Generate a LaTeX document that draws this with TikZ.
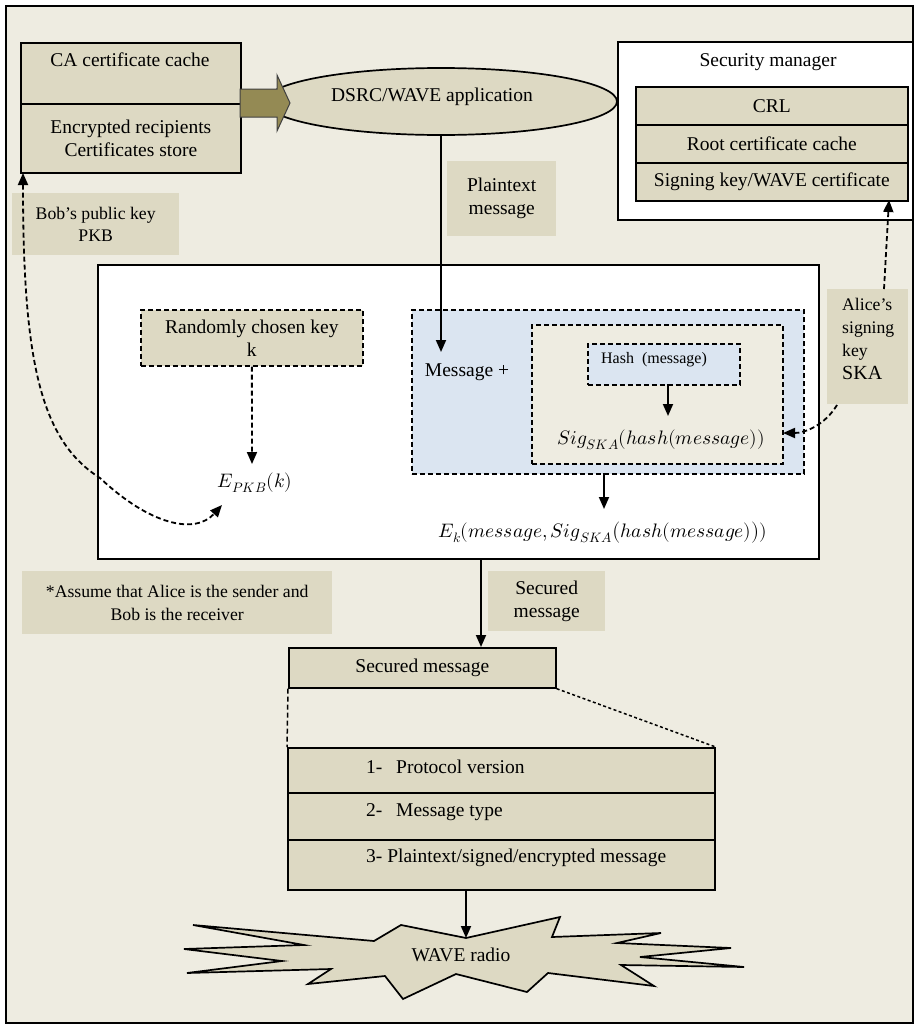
\documentclass[tikz,border=0pt]{standalone}
\usepackage{fontspec}
\usepackage{unicode-math}
\setmainfont{Liberation Serif}
\setmathfont{Latin Modern Math}
\usetikzlibrary{arrows.meta,shapes.geometric,calc}
\definecolor{bgc}{HTML}{EEECE1}
\definecolor{tanc}{HTML}{DDD9C3}
\definecolor{olivec}{HTML}{948A54}
\definecolor{bluec}{HTML}{DBE5F1}
\begin{document}
\begin{tikzpicture}[x=1pt,y=-1pt,
 tx/.style={font=\fontsize{19.5}{23}\selectfont, inner sep=0pt, align=center},
 sm/.style={font=\fontsize{17.7}{22.5}\selectfont, inner sep=0pt, align=center},
 cell/.style={draw, line width=1.7pt, fill=tanc, inner sep=0pt, anchor=north west},
 dbox/.style={draw, line width=1.7pt, dash pattern=on 5pt off 3pt, inner sep=0pt, anchor=north west},
 lab/.style={fill=tanc, inner sep=0pt, anchor=north west},
 arr/.style={line width=1.8pt, -{Triangle[length=12pt,width=10pt]}},
 darr/.style={line width=1.8pt, dash pattern=on 5pt off 3pt, -{Triangle[length=12pt,width=10pt]}},
 dline/.style={line width=1.5pt, dash pattern=on 5pt off 3pt},
]
\useasboundingbox (0,0) rectangle (916,1028);
\node[draw, line width=2pt, fill=bgc, anchor=north west, minimum width=907pt, minimum height=1017pt, inner sep=0pt] (frame) at (5,5) {};

% CA certificate box
\node[cell, minimum width=220pt, minimum height=61pt] (ca1) at (20,42) {};
\node[tx] (ca1t) at (130,60) {CA certificate cache};
\node[cell, tx, minimum width=220pt, minimum height=69pt] (ca2) at (20,103) {Encrypted recipients\\Certificates store};

% application ellipse
\node[draw, ellipse, line width=1.7pt, fill=tanc, minimum width=352pt, minimum height=67pt, inner sep=0pt] (app) at (441,101.5) {};
\node[tx] (appt) at (432,97) {DSRC/WAVE application};

% big arrow
\draw[line width=1pt, draw=black!75, fill=olivec] (240,89) -- (277,89) -- (277,75) -- (290,103) -- (277,131) -- (277,117) -- (240,117) -- cycle;

% security manager
\node[draw, line width=1.7pt, fill=white, anchor=north west, minimum width=295pt, minimum height=178pt, inner sep=0pt] (secm) at (617,41) {};
\node[tx] (secmt) at (768,62) {Security manager};
\node[cell, tx, minimum width=272pt, minimum height=38pt] (crl) at (635,86) {CRL};
\node[cell, tx, minimum width=272pt, minimum height=38pt] (root) at (635,124) {Root certificate cache};
\node[cell, tx, minimum width=272pt, minimum height=38pt] (sign) at (635,162) {Signing key/WAVE certificate};

% labels
\node[lab, tx, minimum width=109pt, minimum height=75pt] (plab) at (447,161) {Plaintext\\message};
\node[lab, sm, minimum width=167pt, minimum height=62pt] (blab) at (12,193) {Bob’s public key\\PKB};

% main white box
\node[draw, line width=2pt, fill=white, anchor=north west, minimum width=721pt, minimum height=294pt, inner sep=0pt] (main) at (97,264) {};

\node[dbox, tx, fill=tanc, minimum width=222pt, minimum height=56pt] (rk) at (140,309) {Randomly chosen key\\k};
\node[tx] (epkb) at (255,483) {$E_{PKB}(k)$};

\node[dbox, fill=bluec, minimum width=392pt, minimum height=164pt] (blue) at (411,309) {};
\node[tx] (msgp) at (467,372) {Message +};
\node[dbox, fill=bgc, minimum width=251pt, minimum height=139pt] (inner) at (531,324) {};
\node[dbox, fill=bluec, minimum width=152pt, minimum height=41pt] (hash) at (587,343) {};
\node[font=\fontsize{16}{19}\selectfont, inner sep=0pt] (hasht) at (654,360) {Hash\ \ (message)};
\node[tx] (sig) at (661,440) {$Sig_{SKA}(hash(message))$};
\node[tx] (ek) at (603,533) {$E_k(message,Sig_{SKA}\bigl(hash(message)\bigr))$};

% Alice label
\node[lab, minimum width=81pt, minimum height=115pt] (alice) at (827,289) {};
\node[font=\fontsize{17.7}{23}\selectfont, inner sep=0pt, align=left, anchor=north west] (alicet) at (842,298) {Alice’s\\signing\\key\\{\fontsize{20}{23}\selectfont SKA}};

% lower part
\node[lab, sm, minimum width=310pt, minimum height=63pt] (assume) at (22,571) {*Assume that Alice is the sender and\\Bob is the receiver};
\node[lab, tx, minimum width=117pt, minimum height=60pt] (slab) at (488,571) {Secured\\message};
\node[cell, tx, minimum width=267pt, minimum height=40pt] (smsg) at (288,647) {Secured message};

\node[cell, minimum width=427pt, minimum height=45pt] (p1) at (287,747) {};
\node[cell, minimum width=427pt, minimum height=47pt] (p2) at (287,792) {};
\node[cell, minimum width=427pt, minimum height=50pt] (p3) at (287,839) {};
\node[tx, anchor=west] (p1t) at (366,767) {\makebox[30pt][l]{1-}Protocol version};
\node[tx, anchor=west] (p2t) at (366,812) {\makebox[30pt][l]{2-}Message type};
\node[tx, anchor=west] (p3t) at (366,858) {3- Plaintext/signed/encrypted message};

% star
\draw[line width=1.7pt, fill=tanc] (466,938) -- (560,917) -- (552,937) -- (661,933) -- (617,943) -- (731,948) -- (640,957) -- (744,967) -- (621,965) -- (654,986) -- (548,973) -- (527,992) -- (456,974) -- (403,999) -- (385,976) -- (308,984) -- (331,969) -- (187,973) -- (282,961) -- (184,949) -- (304,945) -- (193,925) -- (374,941) -- (401,925) -- cycle;
\node[tx] (radio) at (461,955) {WAVE radio};

% connector end points
\coordinate (appin) at (441,352);
\coordinate (bobs) at (23,173);
\coordinate (bobe) at (222,505);
\coordinate (rkin) at (252,464);
\coordinate (hashout) at (668,384);
\coordinate (hashin) at (668,416);
\coordinate (blueout) at (604,473);
\coordinate (ekin) at (604,509);
\coordinate (alup) at (884,289);
\coordinate (signin) at (889,200);
\coordinate (alout) at (837,405);
\coordinate (innerin) at (783,433);
\coordinate (mainout) at (481,558);
\coordinate (smsgin) at (481,647);
\coordinate (p3out) at (466,889);
\coordinate (radioin) at (466,938);

% connectors
\draw[arr] (app.south) -- (appin);
\draw[line width=1.8pt, dash pattern=on 5pt off 3pt, {Triangle[length=12pt,width=10pt]}-{Triangle[length=12pt,width=10pt]}] (bobs) .. controls (23,360) and (40,440) .. (100,478) .. controls (150,525) and (195,535) .. (bobe);
\draw[darr] (rk.south) -- (rkin);
\draw[arr] (hashout) -- (hashin);
\draw[arr] (blueout) -- (ekin);
\draw[darr] (alup) -- (signin);
\draw[darr] (alout) .. controls (825,425) and (805,433) .. (innerin);
\draw[arr] (mainout) -- (smsgin);
\draw[dline] (smsg.south west) -- (p1.north west);
\draw[line width=1.5pt, dash pattern=on 3pt off 2.5pt] (smsg.south east) -- (p1.north east);
\draw[arr] (p3out) -- (radioin);
\end{tikzpicture}
\end{document}
